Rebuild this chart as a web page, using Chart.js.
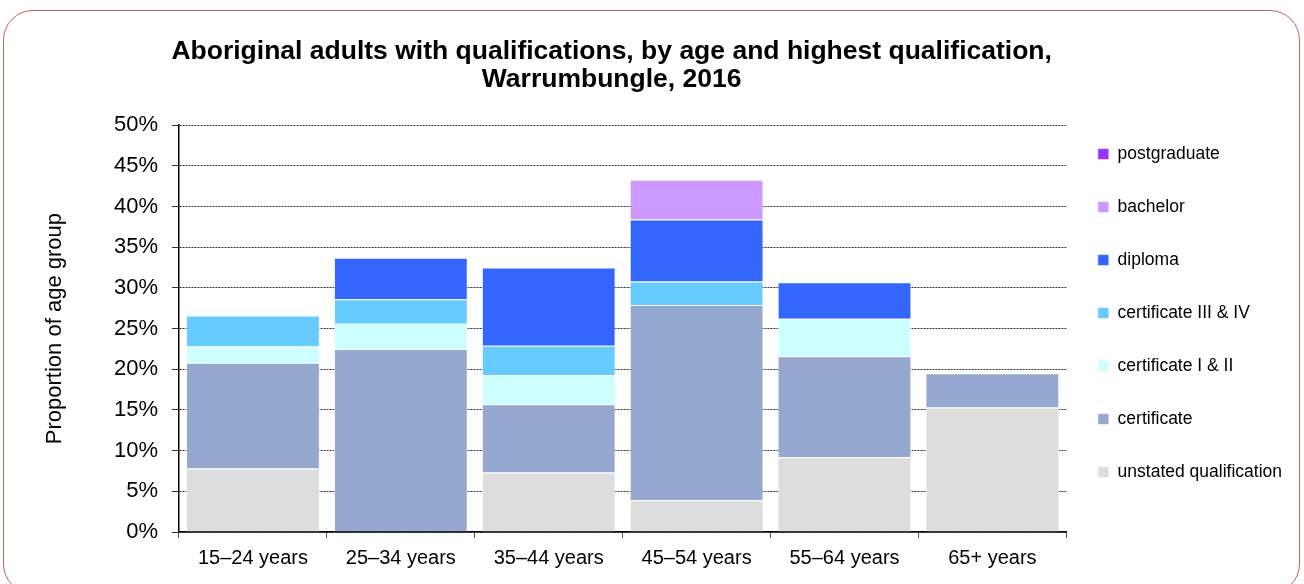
<!DOCTYPE html>
<html>
<head>
<meta charset="utf-8">
<script src="https://cdn.jsdelivr.net/npm/chart.js@4"></script>
<style>
  html, body { margin: 0; padding: 0; background: #fff; }
  .wrap { position: relative; width: 1304px; height: 584px; overflow: hidden; }
  .frame {
    position: absolute; left: 3px; top: 10px; width: 1295px; height: 582px;
    border: 1.5px solid #bc6464; border-radius: 30px; pointer-events: none;
  }
  canvas { position: absolute; left: 0; top: 0; }
</style>
</head>
<body>
<div class="wrap">
  <canvas id="chartQualifications" width="1304" height="584"></canvas>
  <div class="frame"></div>
</div>
<script>
// ── Data (percent of age group) ──────────────────────────────
const ageGroups = ['15–24 years', '25–34 years', '35–44 years', '45–54 years', '55–64 years', '65+ years'];
const unstated     = [7.8, 0, 7.3, 3.9, 9.2, 15.3];
const certificate  = [13.0, 22.5, 8.4, 24.0, 12.4, 4.2];
const certI_II     = [2.0, 3.1, 3.6, 0, 4.6, 0];
const certIII_IV   = [3.8, 3.0, 3.6, 2.9, 0, 0];
const diploma      = [0, 5.1, 9.6, 7.6, 4.5, 0];
const bachelor     = [0, 0, 0, 4.9, 0, 0];
const postgraduate = [0, 0, 0, 0, 0, 0];

const FONT = "'Liberation Sans', Arial, Helvetica, sans-serif";
Chart.defaults.font.family = FONT;
Chart.defaults.color = '#000';

function series(label, data, color) {
  return {
    label,
    data,
    backgroundColor: color,
    borderColor: 'rgba(255, 255, 255, 0.55)',
    borderWidth: 1,
    barPercentage: 0.905,
    categoryPercentage: 1.0
  };
}

// small offsets for the title and legend blocks after layout
const blockNudge = {
  id: 'blockNudge',
  afterLayout(chart) {
    const lg = chart.legend;
    lg.left -= 4; lg.right -= 4;
    lg.top -= 15.5; lg.bottom -= 15.5;
    const tb = chart.titleBlock;
    tb.left -= 11; tb.right -= 11;
  }
};

new Chart(document.getElementById('chartQualifications'), {
  type: 'bar',
  data: {
    labels: ageGroups,
    datasets: [
      series('unstated qualification', unstated, '#dddddd'),
      series('certificate', certificate, '#95a9d0'),
      series('certificate I & II', certI_II, '#ccffff'),
      series('certificate III & IV', certIII_IV, '#66ccff'),
      series('diploma', diploma, '#3366ff'),
      series('bachelor', bachelor, '#cc99ff'),
      series('postgraduate', postgraduate, '#9933ff')
    ]
  },
  options: {
    responsive: false,
    animation: false,
    layout: { padding: { left: 30, right: 8, top: 0, bottom: 0 } },
    scales: {
      x: {
        stacked: true,
        afterFit: (s) => { s.height = 52; },
        grid: { drawOnChartArea: false, tickLength: 6, tickColor: '#555', offset: true },
        border: { color: '#000', width: 1.5 },
        ticks: { font: { size: 20 }, padding: 8, color: '#000' }
      },
      y: {
        stacked: true,
        min: 0,
        max: 50,
        afterFit: (s) => { s.width = 149; },
        ticks: {
          stepSize: 5,
          padding: 14,
          font: { size: 22 },
          color: '#000',
          callback: (v) => v + '%'
        },
        grid: {
          color: '#333', lineWidth: 1, tickLength: 7, tickColor: '#333',
          borderDash: [2, 1], tickBorderDash: []
        },
        border: { color: '#000', width: 1.5, dash: [2, 1] },
        title: {
          display: true,
          text: 'Proportion of age group',
          font: { size: 22 },
          color: '#000',
          padding: { top: 12, bottom: 0 }
        }
      }
    },
    plugins: {
      title: {
        display: true,
        fullSize: false,
        text: ['Aboriginal adults with qualifications, by age and highest qualification,', 'Warrumbungle, 2016'],
        font: { size: 26.5, weight: 'bold', lineHeight: 1.06 },
        color: '#000',
        padding: { top: 38, bottom: 31 }
      },
      legend: {
        position: 'right',
        fullSize: false,
        reverse: true,
        labels: {
          boxWidth: 11,
          boxHeight: 11,
          padding: 35.5,
          font: { size: 17.5 },
          color: '#000'
        }
      },
      tooltip: { enabled: false }
    }
  },
  plugins: [blockNudge]
});
</script>
</body>
</html>
